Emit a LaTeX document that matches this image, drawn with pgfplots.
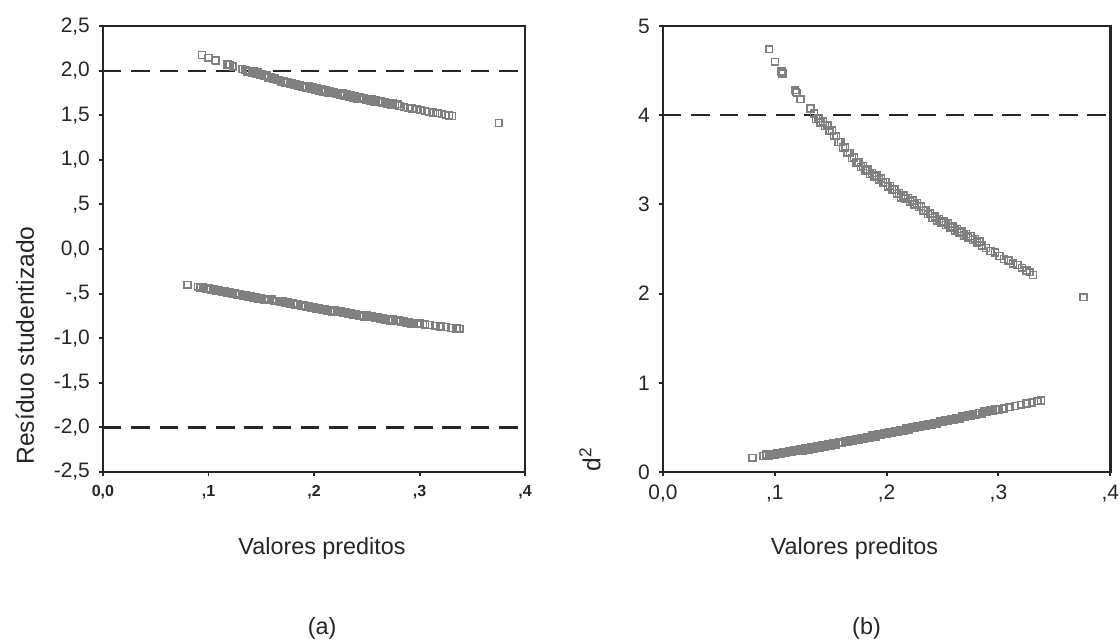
\documentclass[border=0pt]{standalone}
\usepackage{fontspec}
\setmainfont{Liberation Sans}
\usepackage{pgfplots}
\usepackage{pgfplotstable}
\pgfplotsset{compat=1.18}

% residuos studentizados
\pgfplotstableread{
x y
0.094 2.177
0.100 2.145
0.106 2.119
0.107 2.114
0.118 2.069
0.119 2.064
0.120 2.062
0.123 2.045
0.132 2.019
0.135 2.005
0.137 1.990
0.141 1.980
0.145 1.970
0.149 1.957
0.153 1.942
0.157 1.924
0.161 1.908
0.165 1.892
0.169 1.876
0.173 1.863
0.177 1.849
0.181 1.838
0.185 1.828
0.189 1.819
0.193 1.811
0.197 1.800
0.201 1.789
0.205 1.778
0.209 1.766
0.213 1.755
0.217 1.749
0.221 1.741
0.225 1.732
0.229 1.723
0.233 1.712
0.237 1.700
0.241 1.688
0.245 1.679
0.249 1.670
0.253 1.664
0.257 1.655
0.261 1.646
0.265 1.637
0.269 1.628
0.273 1.622
0.277 1.612
0.281 1.603
0.285 1.594
0.289 1.584
0.293 1.575
0.297 1.568
0.301 1.556
0.305 1.546
0.309 1.539
0.313 1.530
0.317 1.523
0.321 1.513
0.325 1.503
0.328 1.497
0.331 1.490
0.375 1.415
0.139 2.000
0.143 1.990
0.147 1.979
0.151 1.965
0.155 1.948
0.159 1.931
0.163 1.915
0.167 1.899
0.171 1.885
0.175 1.871
0.179 1.859
0.183 1.848
0.187 1.839
0.191 1.830
0.195 1.821
0.199 1.810
0.203 1.799
0.207 1.787
0.211 1.776
0.215 1.767
0.219 1.760
0.223 1.752
0.227 1.743
0.231 1.733
0.235 1.721
0.239 1.709
0.243 1.699
0.247 1.690
0.251 1.682
0.255 1.675
0.259 1.666
0.263 1.657
0.267 1.648
0.271 1.640
0.275 1.632
0.279 1.623
}\resA

\pgfplotstableread{
x y
0.080 -0.400
0.090 -0.422
0.095 -0.431
0.100 -0.440
0.105 -0.451
0.110 -0.462
0.115 -0.472
0.120 -0.483
0.125 -0.493
0.130 -0.504
0.135 -0.515
0.140 -0.525
0.145 -0.536
0.150 -0.546
0.155 -0.557
0.160 -0.567
0.165 -0.579
0.170 -0.590
0.175 -0.601
0.180 -0.612
0.185 -0.622
0.190 -0.632
0.195 -0.643
0.200 -0.653
0.205 -0.663
0.210 -0.672
0.215 -0.682
0.220 -0.691
0.225 -0.701
0.230 -0.710
0.235 -0.719
0.240 -0.728
0.245 -0.738
0.250 -0.747
0.255 -0.756
0.260 -0.766
0.265 -0.775
0.270 -0.784
0.275 -0.792
0.280 -0.801
0.285 -0.810
0.290 -0.819
0.295 -0.827
0.300 -0.835
0.305 -0.844
0.310 -0.852
0.315 -0.860
0.320 -0.868
0.325 -0.876
0.330 -0.883
0.335 -0.891
0.338 -0.894
0.0925 -0.439
0.0975 -0.448
0.1025 -0.458
0.1075 -0.469
0.1125 -0.479
0.1175 -0.490
0.1225 -0.500
0.1275 -0.511
0.1325 -0.522
0.1375 -0.532
0.1425 -0.543
0.1475 -0.553
0.1525 -0.564
0.1575 -0.574
0.1625 -0.585
0.1675 -0.597
0.1725 -0.608
0.1775 -0.619
0.1825 -0.629
0.1875 -0.639
0.1925 -0.650
0.1975 -0.660
0.2025 -0.670
0.2075 -0.680
0.2125 -0.689
0.2175 -0.699
0.2225 -0.708
0.2275 -0.718
0.2325 -0.727
0.2375 -0.736
0.2425 -0.745
0.2475 -0.755
0.2525 -0.764
0.2575 -0.773
0.2625 -0.783
0.2675 -0.792
0.2725 -0.800
0.2775 -0.809
0.2825 -0.818
0.2875 -0.827
0.2925 -0.835
0.2975 -0.843
}\resB

% d^2
\pgfplotstableread{
x y
0.095 4.74
0.100 4.60
0.106 4.49
0.107 4.47
0.118 4.28
0.119 4.26
0.120 4.25
0.123 4.18
0.132 4.075
0.135 4.02
0.137 3.96
0.141 3.92
0.145 3.88
0.149 3.83
0.153 3.77
0.157 3.70
0.161 3.64
0.165 3.58
0.169 3.52
0.173 3.47
0.177 3.42
0.181 3.38
0.185 3.34
0.189 3.31
0.193 3.28
0.197 3.24
0.201 3.20
0.205 3.16
0.209 3.12
0.213 3.08
0.217 3.06
0.221 3.03
0.225 3.00
0.229 2.97
0.233 2.93
0.237 2.89
0.241 2.85
0.245 2.82
0.249 2.79
0.253 2.77
0.257 2.74
0.261 2.71
0.265 2.68
0.269 2.65
0.273 2.63
0.277 2.60
0.281 2.57
0.285 2.54
0.289 2.51
0.293 2.48
0.297 2.46
0.301 2.42
0.305 2.39
0.309 2.37
0.313 2.34
0.317 2.32
0.321 2.29
0.325 2.26
0.328 2.24
0.331 2.21
0.376 1.96
0.139 3.97
0.143 3.93
0.147 3.885
0.151 3.83
0.155 3.765
0.159 3.70
0.163 3.64
0.167 3.58
0.171 3.525
0.175 3.475
0.179 3.43
0.183 3.39
0.187 3.355
0.191 3.325
0.195 3.29
0.199 3.25
0.203 3.21
0.207 3.17
0.211 3.13
0.215 3.10
0.219 3.075
0.223 3.045
0.227 3.015
0.231 2.98
0.235 2.94
0.239 2.90
0.243 2.865
0.247 2.835
0.251 2.81
0.255 2.785
0.259 2.755
0.263 2.725
0.267 2.695
0.271 2.67
0.275 2.645
0.279 2.615
0.283 2.585
}\dA

\pgfplotstableread{
x y
0.080 0.160
0.090 0.178
0.095 0.186
0.100 0.194
0.105 0.203
0.110 0.213
0.115 0.223
0.120 0.233
0.125 0.243
0.130 0.254
0.135 0.265
0.140 0.276
0.145 0.287
0.150 0.298
0.155 0.310
0.160 0.322
0.165 0.335
0.170 0.348
0.175 0.361
0.180 0.374
0.185 0.387
0.190 0.400
0.195 0.413
0.200 0.426
0.205 0.439
0.210 0.452
0.215 0.465
0.220 0.478
0.225 0.491
0.230 0.504
0.235 0.517
0.240 0.530
0.245 0.544
0.250 0.558
0.255 0.572
0.260 0.586
0.265 0.600
0.270 0.614
0.275 0.628
0.280 0.642
0.285 0.656
0.290 0.670
0.295 0.684
0.300 0.698
0.305 0.712
0.310 0.726
0.315 0.740
0.320 0.754
0.325 0.767
0.330 0.780
0.335 0.793
0.338 0.800
0.0925 0.197
0.0975 0.205
0.1025 0.214
0.1075 0.223
0.1125 0.233
0.1175 0.243
0.1225 0.253
0.1275 0.264
0.1325 0.275
0.1375 0.286
0.1425 0.297
0.1475 0.308
0.1525 0.319
0.1575 0.331
0.1625 0.344
0.1675 0.357
0.1725 0.370
0.1775 0.383
0.1825 0.396
0.1875 0.409
0.1925 0.422
0.1975 0.435
0.2025 0.448
0.2075 0.461
0.2125 0.474
0.2175 0.487
0.2225 0.500
0.2275 0.513
0.2325 0.526
0.2375 0.539
0.2425 0.552
0.2475 0.566
0.2525 0.580
0.2575 0.594
0.2625 0.608
0.2675 0.622
0.2725 0.636
0.2775 0.650
0.2825 0.664
0.2875 0.678
0.2925 0.692
0.2975 0.706
}\dB

\pgfplotsset{
  painel/.style={
    scale only axis,
    height=6.37cm,
    xmin=0, xmax=0.4,
    xtick={0,0.1,0.2,0.3,0.4},
    xticklabels={{0,0},{,1},{,2},{,3},{,4}},
    tick align=outside,
    xtick pos=bottom, ytick pos=left,
    major tick length=1.8pt,
    axis line style={line width=1pt, black!85},
    every tick/.style={black!85, line width=0.8pt},
    ticklabel style={text=black!85},
    yticklabel style={font=\fontsize{8.5}{10}\selectfont},
    clip=false,
  },
  pts/.style={only marks, mark=square, mark size=1.4pt,
    mark options={draw=black!50, line width=0.6pt, fill=none}},
  corte/.style={black!85, line width=0.9pt, dash pattern=on 7.5pt off 4pt},
}

\begin{document}
\begin{tikzpicture}
\useasboundingbox (-1.471,-2.386) rectangle (14.529,6.743);

\begin{axis}[painel, at={(0cm,0cm)}, anchor=south west,
  width=6.03cm,
  ymin=-2.5, ymax=2.5,
  ytick={-2.5,-2,-1.5,-1,-0.5,0,0.5,1,1.5,2,2.5},
  yticklabels={{-2,5},{-2,0},{-1,5},{-1,0},{-,5},{0,0},{,5},{1,0},{1,5},{2,0},{2,5}},
  xticklabel style={font=\bfseries\fontsize{6.5}{8}\selectfont},
]
\addplot[corte] coordinates {(0,2) (0.4,2)};
\addplot[corte] coordinates {(0,-2) (0.4,-2)};
\addplot[pts] table[x=x, y=y] {\resA};
\addplot[pts] table[x=x, y=y] {\resB};
\node[rotate=90, anchor=west, inner sep=0pt, font=\fontsize{10}{12}\selectfont, text=black!85]
  at ([xshift=-1.114cm, yshift=0.1cm]rel axis cs:0,0) {Resíduo studentizado};
\node[font=\fontsize{9.5}{11}\selectfont, text=black!85]
  at ([yshift=-1.086cm]rel axis cs:0.519,0) {Valores preditos};
\node[font=\fontsize{9.5}{11}\selectfont, text=black!85]
  at ([yshift=-2.23cm]rel axis cs:0.519,0) {(a)};
\end{axis}

\begin{axis}[painel, at={(8.0cm,0cm)}, anchor=south west,
  width=6.39cm,
  ymin=0, ymax=5,
  ytick={0,1,2,3,4,5},
  yticklabels={0,1,2,3,4,5},
  xticklabel style={font=\fontsize{8.5}{10}\selectfont},
]
\addplot[corte] coordinates {(0,4) (0.4,4)};
\addplot[pts] table[x=x, y=y] {\dA};
\addplot[pts] table[x=x, y=y] {\dB};
\node[rotate=90, anchor=west, inner sep=0pt, font=\fontsize{10}{12}\selectfont, text=black!85]
  at ([xshift=-1.043cm]rel axis cs:0,0) {d\textsuperscript{2}};
\node[font=\fontsize{9.5}{11}\selectfont, text=black!85]
  at ([yshift=-1.086cm]rel axis cs:0.428,0) {Valores preditos};
\node[font=\fontsize{9.5}{11}\selectfont, text=black!85]
  at ([yshift=-2.23cm]rel axis cs:0.455,0) {(b)};
\end{axis}
\end{tikzpicture}
\end{document}
